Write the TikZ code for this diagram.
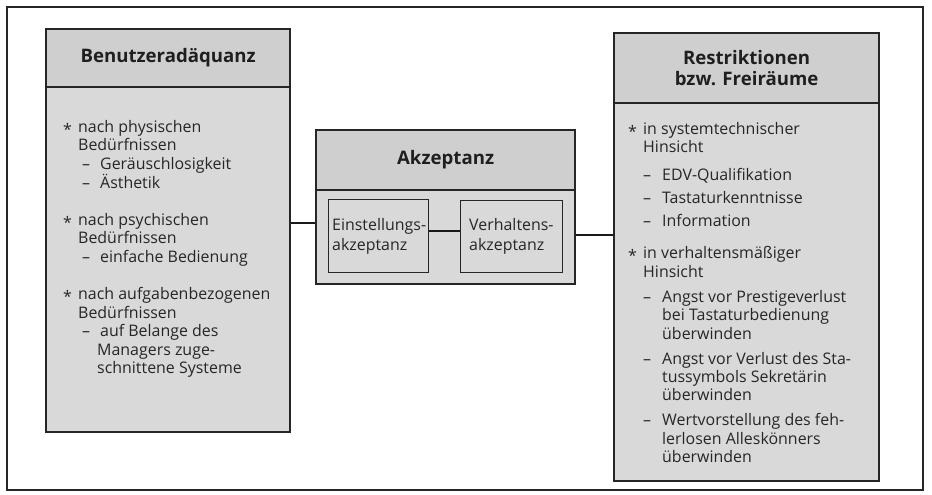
\documentclass[tikz,border=0pt]{standalone}
\usepackage{fontspec}
\setmainfont{Open Sans}
\newcommand\st{\makebox[15bp][l]{\raisebox{-0.35ex}{*}}}
\newcommand\stl[1]{\st#1}
\newcommand\cnt[1]{\hspace*{15bp}#1}
\newcommand\dl[1]{\hspace*{19bp}\makebox[18bp][l]{–}#1}
\newcommand\dc[1]{\hspace*{34bp}#1}
\newcommand\rdl[1]{\hspace*{15bp}\makebox[19bp][l]{–}#1}
\begin{document}
\begin{tikzpicture}[x=1bp,y=-1bp,
  box/.style={draw=black!85, line width=2.2bp, fill=black!15, inner sep=0pt, anchor=north west},
  hbox/.style={box, fill=black!19},
  conn/.style={draw=black!90, line width=2.6bp},
  head/.style={font=\fontsize{18.7}{21}\selectfont\bfseries, align=center, text=black!88},
  body/.style={font=\fontsize{16}{18.65}\selectfont, align=left, inner sep=0pt, anchor=north west, text=black!85}]
\useasboundingbox (0,0) rectangle (932,495);
\fill[white] (0,0) rectangle (932,495);
\draw[line width=1.6bp, draw=black!85] (7,7) rectangle (923,490);
% left box
\node[hbox, minimum width=244bp, minimum height=58bp] (lh) at (45,28) {};
\node[head] (lht) at (lh.center) {Benutzeradäquanz};
\node[box, minimum width=244bp, minimum height=345bp] (lb) at (45,86) {};
\node[body] (lbt) at (63,120) {\stl{nach physischen}\\ \cnt{Bedürfnissen}\\ \dl{Geräuschlosigkeit}\\ \dl{Ästhetik}\\[18.65bp]
\stl{nach psychischen}\\ \cnt{Bedürfnissen}\\ \dl{einfache Bedienung}\\[18.65bp]
\stl{nach aufgabenbezogenen}\\ \cnt{Bedürfnissen}\\ \dl{auf Belange des}\\ \dc{Managers zuge-}\\ \dc{schnittene Systeme}};
% middle box
\node[hbox, minimum width=259bp, minimum height=60bp] (mh) at (315,129) {};
\node[head] (mht) at (mh.center) {Akzeptanz};
\node[box, minimum width=259bp, minimum height=94bp] (mb) at (315,189) {};
\node[box, line width=1.4bp, minimum width=100bp, minimum height=73bp] (ea) at (328,199) {};
\node[box, line width=1.4bp, minimum width=102bp, minimum height=72bp] (va) at (460,200) {};
\node[body, font=\fontsize{16}{20}\selectfont] (eat) at (332,218) {Einstellungs-\\akzeptanz};
\node[body, font=\fontsize{16}{20}\selectfont] (vat) at (469,218) {Verhaltens-\\akzeptanz};
% right box
\node[hbox, minimum width=265bp, minimum height=70bp] (rh) at (613,32) {};
\node[head] (rht) at (rh.center) {Restriktionen\\bzw. Freiräume};
\node[box, minimum width=265bp, minimum height=378bp] (rb) at (613,102) {};
\node[body, font=\fontsize{16}{18.5}\selectfont] (rbt) at (628,122) {\stl{in systemtechnischer}\\ \cnt{Hinsicht}\\[9.5bp]
\rdl{EDV-Qualifikation}\\[4.5bp]
\rdl{Tastaturkenntnisse}\\[4bp]
\rdl{Information}\\[14.5bp]
\stl{in verhaltensmäßiger}\\ \cnt{Hinsicht}\\[6.5bp]
\rdl{Angst vor Prestigeverlust}\\ \dc{bei Tastaturbedienung}\\ \dc{überwinden}\\[6.5bp]
\rdl{Angst vor Verlust des Sta-}\\ \dc{tussymbols Sekretärin}\\ \dc{überwinden}\\[6.5bp]
\rdl{Wertvorstellung des feh-}\\ \dc{lerlosen Alleskönners}\\ \dc{überwinden}};
% connectors
\draw[conn] (lb.east |- 0,223) -- (mb.west |- 0,223);
\draw[conn] (mb.east |- 0,235) -- (rb.west |- 0,235);
\draw[conn] (ea.east |- 0,231) -- (va.west |- 0,231);
\end{tikzpicture}
\end{document}
